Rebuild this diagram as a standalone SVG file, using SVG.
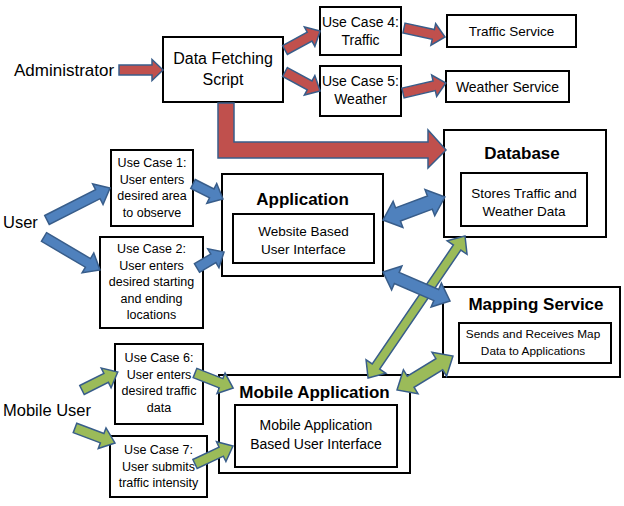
<svg xmlns="http://www.w3.org/2000/svg" width="624" height="506" viewBox="0 0 624 506">
<style>
.box{fill:#fff;stroke:#000;stroke-width:2}
.t{font-family:"Liberation Sans",Arial,sans-serif;fill:#000;text-anchor:middle}
.lab{font-family:"Liberation Sans",Arial,sans-serif;fill:#000;font-size:16.5px}
.b{font-weight:bold;font-size:17px}
.uc{font-size:12.5px}
.red{fill:#c0504d;stroke:#385d8a;stroke-width:1.5}
.blue{fill:#4f81bd;stroke:#385d8a;stroke-width:1.5}
.green{fill:#9bbb59;stroke:#385d8a;stroke-width:1.5}
</style>
<rect width="624" height="506" fill="#fff"/>
<g id="labels">
<text class="lab" x="14" y="76" style="font-size:17px">Administrator</text>
<text class="lab" x="3" y="228">User</text>
<text class="lab" x="3" y="416">Mobile User</text>
</g>
<g id="dfs">
<rect class="box" x="163" y="37" width="120" height="65"/>
<text class="t" x="223" y="64" style="font-size:16px">Data Fetching</text>
<text class="t" x="223" y="85" style="font-size:16px">Script</text>
</g>
<g id="uc4">
<rect class="box" x="320" y="7" width="81" height="48"/>
<text class="t" x="360.5" y="27" style="font-size:14px">Use Case 4:</text>
<text class="t" x="360.5" y="45" style="font-size:14px">Traffic</text>
</g>
<g id="uc5">
<rect class="box" x="320" y="66" width="81" height="50"/>
<text class="t" x="360.5" y="86" style="font-size:14px">Use Case 5:</text>
<text class="t" x="360.5" y="104" style="font-size:14px">Weather</text>
</g>
<g id="traffic">
<rect class="box" x="447" y="15" width="129" height="32"/>
<text class="t" x="511.5" y="36" style="font-size:13.5px">Traffic Service</text>
</g>
<g id="weather">
<rect class="box" x="446" y="71" width="123" height="31"/>
<text class="t" x="507.5" y="92" style="font-size:14px">Weather Service</text>
</g>
<g id="database">
<rect class="box" x="444" y="130" width="162" height="107"/>
<text class="t b" x="522" y="159">Database</text>
<rect class="box" x="461" y="173" width="126" height="53"/>
<text class="t" x="524" y="198" style="font-size:13.5px">Stores Traffic and</text>
<text class="t" x="524" y="216" style="font-size:13.5px">Weather Data</text>
</g>
<g id="uc1">
<rect class="box" x="111" y="150" width="82" height="76"/>
<text class="t uc" x="152" y="167">Use Case 1:</text>
<text class="t uc" x="152" y="183.5">User enters</text>
<text class="t uc" x="152" y="200">desired area</text>
<text class="t uc" x="152" y="216.5">to observe</text>
</g>
<g id="uc2">
<rect class="box" x="100" y="237" width="103" height="91"/>
<text class="t uc" x="151.5" y="253">Use Case 2:</text>
<text class="t uc" x="151.5" y="269.5">User enters</text>
<text class="t uc" x="151.5" y="286">desired starting</text>
<text class="t uc" x="151.5" y="302.5">and ending</text>
<text class="t uc" x="151.5" y="319">locations</text>
</g>
<g id="application">
<rect class="box" x="222" y="174" width="161" height="102"/>
<text class="t b" x="302.5" y="205">Application</text>
<rect class="box" x="233" y="214" width="141" height="49"/>
<text class="t" x="303.5" y="236" style="font-size:13.5px">Website Based</text>
<text class="t" x="303.5" y="254" style="font-size:13.5px">User Interface</text>
</g>
<g id="mapping">
<rect class="box" x="443" y="287" width="177" height="90"/>
<text class="t b" x="536" y="310">Mapping Service</text>
<rect class="box" x="459" y="323" width="152" height="40"/>
<text class="t" x="533" y="338" style="font-size:11.8px">Sends and Receives Map</text>
<text class="t" x="533" y="355" style="font-size:11.8px">Data to Applications</text>
</g>
<g id="uc6">
<rect class="box" x="115" y="344" width="88" height="80"/>
<text class="t uc" x="159" y="362">Use Case 6:</text>
<text class="t uc" x="159" y="378.5">User enters</text>
<text class="t uc" x="159" y="395">desired traffic</text>
<text class="t uc" x="159" y="411.5">data</text>
</g>
<g id="uc7">
<rect class="box" x="110" y="436" width="97" height="61"/>
<text class="t uc" x="158.5" y="454">Use Case 7:</text>
<text class="t uc" x="158.5" y="470.5">User submits</text>
<text class="t uc" x="158.5" y="487">traffic intensity</text>
</g>
<g id="mobile">
<rect class="box" x="219" y="375" width="191" height="98"/>
<text class="t b" x="314.5" y="398">Mobile Application</text>
<rect class="box" x="235" y="405" width="162" height="62"/>
<text class="t" x="316" y="430" style="font-size:14px">Mobile Application</text>
<text class="t" x="316" y="449" style="font-size:14px">Based User Interface</text>
</g>
<g id="connectors">
<!-- red -->
<path class="red" d="M119,65 L152,65 L152,59.5 L163,70 L152,80.5 L152,75 L119,75 Z"/>
<path class="red" transform="translate(285,50) rotate(-28.5)" d="M0,-5 L28,-5 L28,-11 L40,0 L28,11 L28,5 L0,5 Z"/>
<path class="red" transform="translate(285,72) rotate(28.5)" d="M0,-5 L28,-5 L28,-11 L40,0 L28,11 L28,5 L0,5 Z"/>
<path class="red" transform="translate(404,28) rotate(12.4)" d="M0,-5 L30,-5 L30,-11 L42,0 L30,11 L30,5 L0,5 Z"/>
<path class="red" transform="translate(403,93) rotate(-13.1)" d="M0,-5 L32,-5 L32,-11 L44,0 L32,11 L32,5 L0,5 Z"/>
<path class="red" d="M218,103 L234,103 L234,142 L428,142 L428,130 L446,150 L428,168 L428,158 L218,158 Z"/>
<!-- green -->
<path class="green" transform="translate(82,390) rotate(-26.6)" d="M0,-5 L27,-5 L27,-11 L40,0 L27,11 L27,5 L0,5 Z"/>
<path class="green" transform="translate(75,428) rotate(20.6)" d="M0,-5 L29,-5 L29,-11 L42.7,0 L29,11 L29,5 L0,5 Z"/>
<path class="green" transform="translate(195,373) rotate(21.5)" d="M0,-5 L28,-5 L28,-11 L41,0 L28,11 L28,5 L0,5 Z"/>
<path class="green" transform="translate(195,464) rotate(-25.3)" d="M0,-5 L29,-5 L29,-11 L42,0 L29,11 L29,5 L0,5 Z"/>
<path class="green" transform="translate(465,236) rotate(124.3)" d="M0,0 L14,-12 L14,-4.5 L158,-4.5 L158,-12 L172,0 L158,12 L158,4.5 L14,4.5 L14,12 Z"/>
<path class="green" transform="translate(397,390) rotate(-31.3)" d="M0,0 L16,-14 L16,-6.5 L49.5,-6.5 L49.5,-14 L65.5,0 L49.5,14 L49.5,6.5 L16,6.5 L16,14 Z"/>
<!-- blue -->
<path class="blue" transform="translate(47,220) rotate(-26.9)" d="M0,-5 L57,-5 L57,-11.5 L70.7,0 L57,11.5 L57,5 L0,5 Z"/>
<path class="blue" transform="translate(44,237) rotate(30.5)" d="M0,-5 L51,-5 L51,-11.5 L65,0 L51,11.5 L51,5 L0,5 Z"/>
<path class="blue" transform="translate(193,184) rotate(26.6)" d="M0,-5 L21,-5 L21,-11 L33.5,0 L21,11 L21,5 L0,5 Z"/>
<path class="blue" transform="translate(197,268) rotate(-30.6)" d="M0,-5 L19,-5 L19,-11 L31.4,0 L19,11 L19,5 L0,5 Z"/>
<path class="blue" transform="translate(383,220) rotate(-20.4)" d="M0,0 L16,-14 L16,-7 L50,-7 L50,-14 L66,0 L50,14 L50,7 L16,7 L16,14 Z"/>
<path class="blue" transform="translate(383,272) rotate(23.4)" d="M0,0 L15,-13 L15,-6 L58,-6 L58,-13 L73,0 L58,13 L58,6 L15,6 L15,13 Z"/>
</g>
</svg>
